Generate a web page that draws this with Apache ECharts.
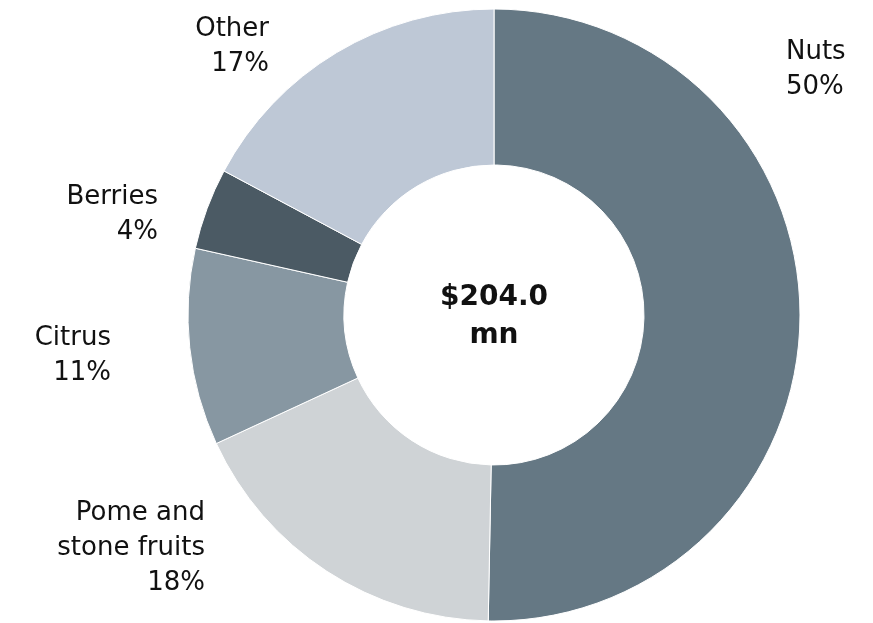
<!DOCTYPE html>
<html>
<head>
<meta charset="utf-8">
<script src="https://cdn.jsdelivr.net/npm/echarts@6/dist/echarts.min.js"></script>
<style>
  html, body { margin: 0; padding: 0; background: #fff; }
  #chart { width: 873px; height: 623px; }
</style>
</head>
<body>
<div id="chart"></div>
<script>
const categories = ["Nuts", "Pome and\nstone fruits", "Citrus", "Berries", "Other"];
const shares = [50.3, 17.8, 10.4, 4.3, 17.2];
const shareLabels = ["50%", "18%", "11%", "4%", "17%"];
const colors = ["#657884", "#cfd3d6", "#8797a2", "#4b5a64", "#bec8d6"];
const totalLabel = "$204.0\nmn";

// label anchor per slice: x, y (block middle), alignment
const labelSpots = [
  { x: 786, y: 70, align: "left" },
  { x: 205, y: 548, align: "right" },
  { x: 111, y: 356, align: "right" },
  { x: 158, y: 215, align: "right" },
  { x: 269, y: 47, align: "right" }
];

const labelFont = "26px 'DejaVu Sans'";

const chart = echarts.init(document.getElementById("chart"));
chart.setOption({
  animation: false,
  graphic: [
    {
      type: "text",
      x: 494,
      y: 317,
      style: {
        text: totalLabel,
        align: "center",
        verticalAlign: "middle",
        font: "bold 28px 'DejaVu Sans'",
        lineHeight: 38,
        fill: "#111"
      }
    }
  ].concat(categories.map((c, i) => ({
    type: "text",
    x: labelSpots[i].x,
    y: labelSpots[i].y,
    style: {
      text: c + "\n" + shareLabels[i],
      align: labelSpots[i].align,
      verticalAlign: "middle",
      font: labelFont,
      lineHeight: 35,
      fill: "#111"
    }
  }))),
  series: [
    {
      type: "pie",
      center: [494, 315],
      radius: [150, 306],
      startAngle: 90,
      clockwise: true,
      itemStyle: { borderColor: "#fff", borderWidth: 1 },
      label: { show: false },
      labelLine: { show: false },
      emphasis: { disabled: true },
      data: categories.map((c, i) => ({
        name: c,
        value: shares[i],
        itemStyle: { color: colors[i] }
      }))
    }
  ]
});
</script>
</body>
</html>
